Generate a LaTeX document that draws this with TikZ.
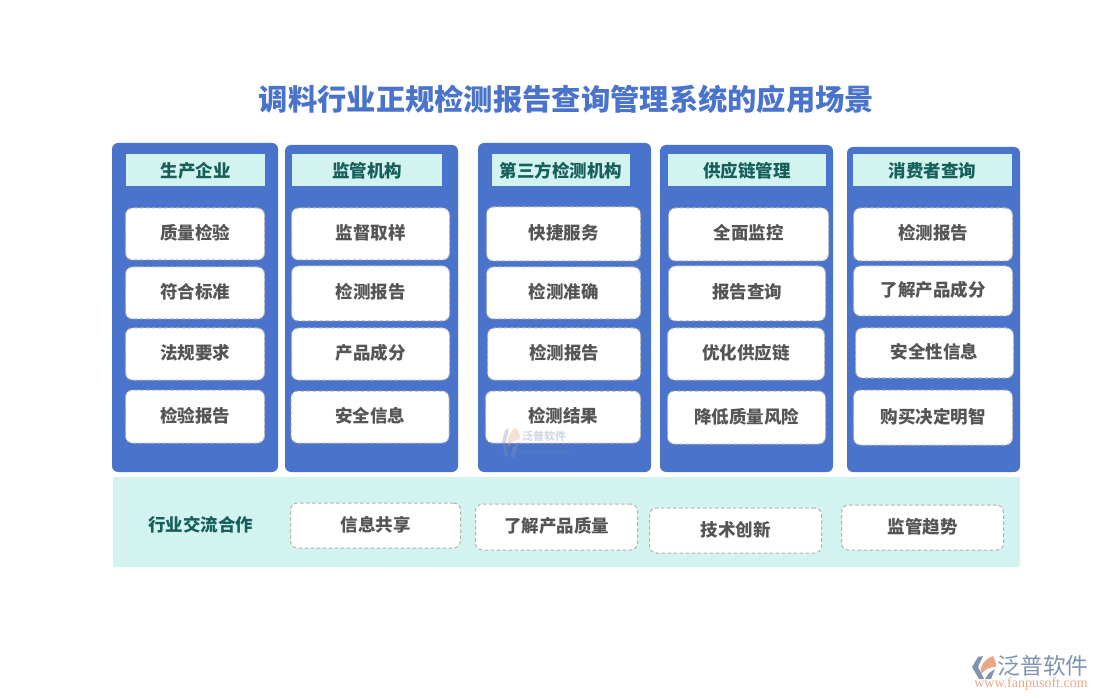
\documentclass[tikz,border=0pt]{standalone}
\usepackage{fontspec}
\usepackage{xcolor}
\setmainfont{Noto Sans CJK SC}
\newfontfamily\urlfont{Liberation Serif}
\newfontfamily\latinfont{Liberation Sans}
\definecolor{panelblue}{HTML}{4A73CB}
\definecolor{paleteal}{HTML}{D3F3F0}
\definecolor{headtext}{HTML}{16605A}
\definecolor{itemtext}{HTML}{555555}
\definecolor{logoblue}{HTML}{7F93B2}
\definecolor{logoorange}{HTML}{E8A888}

\begin{document}
\begin{tikzpicture}[x=1pt, y=-1pt,
  every node/.style={inner sep=0pt, outer sep=0pt, font=\bfseries\fontsize{17.5pt}{20pt}\selectfont},
  panel/.style={fill=panelblue, rounded corners=6pt},
  band/.style={fill=paleteal, rounded corners=2pt},
  headbox/.style={rectangle, fill=paleteal, text=headtext},
  itembox/.style={rectangle, rounded corners=7pt, fill=white, draw=black!30, line width=1pt, dash pattern=on 3.5pt off 2.5pt, text=itemtext, text height=14pt, text depth=3pt, xshift=0.5pt}]
\useasboundingbox (0,0) rectangle (1100,700);

\node[text=panelblue, font=\bfseries\fontsize{29.3pt}{32pt}\selectfont] (title) at (566.5,99.5) {调料行业正规检测报告查询管理系统的应用场景};

% columns
\fill[panel] (112,143) rectangle (278,472);
\fill[panel] (285,145) rectangle (458,472);
\fill[panel] (478,143) rectangle (651,472);
\fill[panel] (660,145) rectangle (833,472);
\fill[panel] (847,147) rectangle (1020,472);
\fill[band] (113,477) rectangle (1020,567);

% headers
\node[headbox, minimum width=139pt, minimum height=32pt] (h1) at (195.5,170.5) {生产企业};
\node[headbox, minimum width=150pt, minimum height=32pt] (h2) at (367,170.5) {监管机构};
\node[headbox, minimum width=138pt, minimum height=32pt] (h3) at (561,170.5) {第三方检测机构};
\node[headbox, minimum width=158pt, minimum height=32pt] (h4) at (747,170.5) {供应链管理};
\node[headbox, minimum width=159pt, minimum height=32pt] (h5) at (932.5,170.5) {消费者查询};

% column 1
\node[itembox, minimum width=139pt, minimum height=52pt] (a1) at (194.5,234) {质量检验};
\node[itembox, minimum width=139pt, minimum height=52pt] (a2) at (194.5,293) {符合标准};
\node[itembox, minimum width=139pt, minimum height=52pt] (a3) at (194.5,354) {法规要求};
\node[itembox, minimum width=139pt, minimum height=53pt] (a4) at (194.5,416.5) {检验报告};
% column 2
\node[itembox, minimum width=158pt, minimum height=52pt] (b1) at (370,234) {监督取样};
\node[itembox, minimum width=158pt, minimum height=55pt] (b2) at (370,293.5) {检测报告};
\node[itembox, minimum width=158pt, minimum height=52pt] (b3) at (370,354) {产品成分};
\node[itembox, minimum width=158pt, minimum height=52pt] (b4) at (369.5,417) {安全信息};
% column 3
\node[itembox, minimum width=154pt, minimum height=54pt] (c1) at (563,234) {快捷服务};
\node[itembox, minimum width=154pt, minimum height=52pt] (c2) at (563,293) {检测准确};
\node[itembox, minimum width=153pt, minimum height=52pt] (c3) at (563.5,354) {检测报告};
\node[itembox, minimum width=155pt, minimum height=52pt] (c4) at (562.5,417) {检测结果};
% column 4
\node[itembox, minimum width=160pt, minimum height=53pt] (d1) at (748,234.5) {全面监控};
\node[itembox, minimum width=157pt, minimum height=55pt] (d2) at (746.5,293.5) {报告查询};
\node[itembox, minimum width=157pt, minimum height=52pt] (d3) at (745.5,354) {优化供应链};
\node[itembox, minimum width=158pt, minimum height=53pt] (d4) at (746,417.5) {降低质量风险};
% column 5
\node[itembox, minimum width=159pt, minimum height=53pt] (e1) at (932.5,234.5) {检测报告};
\node[itembox, minimum width=159pt, minimum height=50pt] (e2) at (932.5,291) {了解产品成分};
\node[itembox, minimum width=158pt, minimum height=50pt] (e3) at (934,353) {安全性信息};
\node[itembox, minimum width=159pt, minimum height=55pt] (e4) at (932.5,417.5) {购买决定明智};

% bottom row
\node[text=headtext] (f0) at (200.5,525) {行业交流合作};
\node[itembox, minimum width=170pt, minimum height=45pt] (f1) at (375,525.5) {信息共享};
\node[itembox, minimum width=162pt, minimum height=46pt] (f2) at (556,527) {了解产品质量};
\node[itembox, minimum width=172pt, minimum height=45pt] (f3) at (735,530.5) {技术创新};
\node[itembox, minimum width=162pt, minimum height=45pt] (f4) at (922,527.5) {监管趋势};

% watermark
\begin{scope}[opacity=0.35]
\fill[logoblue] (509,428) -- (505,430) -- (502,442) -- (505,456) -- (508,456) -- (506,442) -- cycle;
\fill[logoorange] (515,428) .. controls (509,433) and (506,439) .. (508,447) .. controls (511,442) and (515,440) .. (520,439) .. controls (520,433) and (518,430) .. (515,428) -- cycle;
\fill[logoblue] (510,457) -- (513,447) -- (519,441) -- (515,457) -- cycle;
\node[text=logoblue, font=\bfseries\fontsize{11pt}{13pt}\selectfont] (wm1) at (544,436.5) {泛普软件};
\node[text=logoblue, font=\latinfont\fontsize{5.6pt}{7pt}\selectfont] (wm2) at (544,453) {FANPU SOFTWARE};
\end{scope}

% logo
\fill[logoblue] (983,656) -- (978,657) -- (972,667) -- (979,679) -- (984,679) -- (978,667) -- cycle;
\fill[logoorange] (993,656) .. controls (985,659) and (979,666) .. (981,674) .. controls (985,669) and (990,667) .. (996,667) .. controls (996,662) and (995,659) .. (993,656) -- cycle;
\fill[logoblue] (985,679) -- (989,673) -- (995,669) -- (991,679) -- cycle;
\node[text=logoblue, font=\fontsize{22.8pt}{25pt}\selectfont] (logotext) at (1043,666) {泛普软件};
\node[text=logoorange, font=\urlfont\fontsize{14pt}{16pt}\selectfont] (logourl) at (1031,684.5) {www.fanpusoft.com};
\end{tikzpicture}
\end{document}
